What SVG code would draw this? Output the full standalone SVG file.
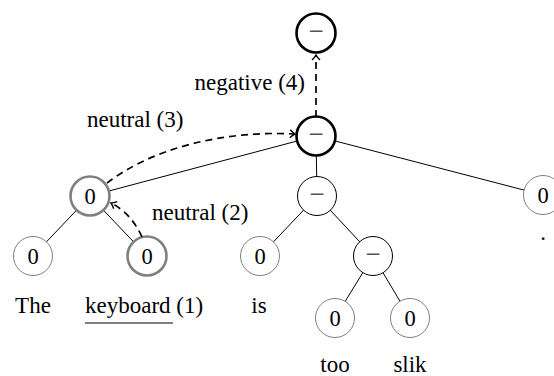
<svg xmlns="http://www.w3.org/2000/svg" width="554" height="376" viewBox="0 0 554 376" font-family="'Liberation Serif', 'DejaVu Serif', serif">
<defs>
<style>
.edge{stroke:#000;stroke-width:1;fill:none}
.dash{stroke:#000;stroke-width:1.7;fill:none;stroke-dasharray:7 5}
.thickb{fill:#fff;stroke:#000;stroke-width:2.6}
.thickg{fill:#fff;stroke:#808080;stroke-width:2.6}
.thinb{fill:#fff;stroke:#000;stroke-width:1}
.thing{fill:#fff;stroke:#808080;stroke-width:1}
text{font-family:'Liberation Serif','DejaVu Serif',serif;fill:#000}
.nl{font-size:22.5px;text-anchor:middle}
.mn{font-size:27px;text-anchor:middle;fill:#555}
.lab{font-size:23px}
.word{font-size:23px;text-anchor:middle}
</style>
<marker id="arr" markerUnits="userSpaceOnUse" markerWidth="12" markerHeight="12" viewBox="0 0 12 12" refX="9" refY="6" orient="auto">
<path d="M4,2 Q7,5 9,6 Q7,7 4,10" fill="none" stroke="#000" stroke-width="1.4"/>
</marker>
</defs>
<rect width="554" height="376" fill="#fff"/>
<g id="edges">
<line class="edge" x1="316" y1="136" x2="90" y2="196"/>
<line class="edge" x1="316" y1="136" x2="317" y2="196"/>
<line class="edge" x1="316" y1="136" x2="543" y2="195"/>
<line class="edge" x1="90" y1="196" x2="33" y2="256"/>
<line class="edge" x1="90" y1="196" x2="147" y2="256"/>
<line class="edge" x1="317" y1="196" x2="260" y2="256"/>
<line class="edge" x1="317" y1="196" x2="373" y2="256"/>
<line class="edge" x1="373" y1="256" x2="335" y2="318"/>
<line class="edge" x1="373" y1="256" x2="410" y2="318"/>
</g>
<g id="n_root"><circle class="thickb" cx="316" cy="33" r="19.5"/><text class="mn" x="316" y="40">−</text></g>
<g id="n_s"><circle class="thickb" cx="316" cy="136" r="19.5"/><text class="mn" x="316" y="143">−</text></g>
<g id="n_np"><circle class="thickg" cx="90" cy="196" r="19.5"/><text class="nl" x="90" y="204">0</text></g>
<g id="n_the"><circle class="thing" cx="33" cy="256" r="19.5"/><text class="nl" x="33" y="264">0</text></g>
<g id="n_kb"><circle class="thickg" cx="147" cy="256" r="19.5"/><text class="nl" x="147" y="264">0</text></g>
<g id="n_vp"><circle class="thinb" cx="317" cy="196" r="19.5"/><text class="mn" x="317" y="203">−</text></g>
<g id="n_is"><circle class="thing" cx="260" cy="256" r="19.5"/><text class="nl" x="260" y="264">0</text></g>
<g id="n_adj"><circle class="thinb" cx="373" cy="256" r="19.5"/><text class="mn" x="373" y="263">−</text></g>
<g id="n_too"><circle class="thing" cx="335" cy="318" r="19.5"/><text class="nl" x="335" y="326">0</text></g>
<g id="n_slik"><circle class="thing" cx="410" cy="318" r="19.5"/><text class="nl" x="410" y="326">0</text></g>
<g id="n_dot"><circle class="thing" cx="543" cy="195" r="19.5"/><text class="nl" x="543" y="203">0</text></g>
<g id="connectors">
<path class="dash" d="M142,237 Q131,213 111,203" marker-end="url(#arr)"/>
<path class="dash" d="M107,183 C150,150 220,130 295,134" marker-end="url(#arr)"/>
<path class="dash" d="M316,117 L316,55" marker-end="url(#arr)"/>
</g>
<g id="labels">
<text class="lab" x="305" y="90" text-anchor="end">negative (4)</text>
<text class="lab" x="87" y="127">neutral (3)</text>
<text class="lab" x="152" y="220">neutral (2)</text>
</g>
<g id="words">
<text class="word" x="33" y="313">The</text>
<text class="lab" x="85" y="313">keyboard (1)</text>
<line x1="85" y1="323" x2="173" y2="323" stroke="#000" stroke-width="1"/>
<text class="word" x="259" y="313">is</text>
<text class="word" x="335" y="372">too</text>
<text class="word" x="410" y="372">slik</text>
<text class="word" x="543" y="240">.</text>
</g>
</svg>
